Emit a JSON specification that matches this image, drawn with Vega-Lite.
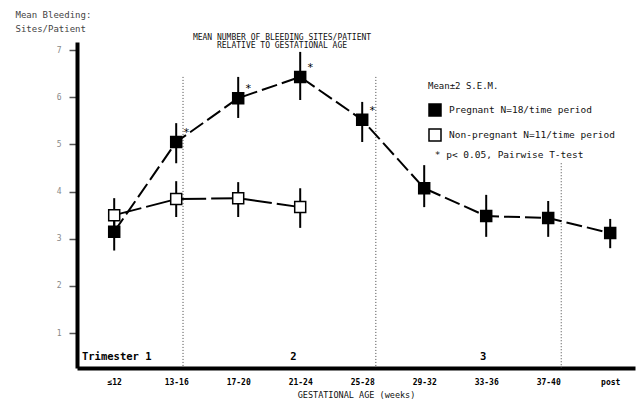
{
  "$schema": "https://vega.github.io/schema/vega-lite/v6.json",
  "width": 558,
  "height": 326,
  "autosize": {"type": "none"},
  "padding": {"left": 77, "top": 42, "right": 6, "bottom": 33},
  "background": "white",
  "config": {"view": {"stroke": null}, "font": "DejaVu Sans Mono"},
  "title": {
    "text": ["MEAN NUMBER OF BLEEDING SITES/PATIENT", "RELATIVE TO GESTATIONAL AGE"],
    "fontSize": 8, "fontWeight": "normal", "lineHeight": 8, "anchor": "middle", "dx": -74, "offset": -40,
    "font": "DejaVu Sans Mono", "color": "#111"
  },
  "datasets": {
    "points": [
      {"age": "≤12", "i": 0, "group": "Pregnant N=18/time period", "mean": 3.15, "lo": 2.75, "hi": 3.55, "sig": false},
      {"age": "13-16", "i": 1, "group": "Pregnant N=18/time period", "mean": 5.05, "lo": 4.6, "hi": 5.45, "sig": true},
      {"age": "17-20", "i": 2, "group": "Pregnant N=18/time period", "mean": 5.98, "lo": 5.56, "hi": 6.43, "sig": true},
      {"age": "21-24", "i": 3, "group": "Pregnant N=18/time period", "mean": 6.43, "lo": 5.94, "hi": 6.96, "sig": true},
      {"age": "25-28", "i": 4, "group": "Pregnant N=18/time period", "mean": 5.52, "lo": 5.05, "hi": 5.9, "sig": true},
      {"age": "29-32", "i": 5, "group": "Pregnant N=18/time period", "mean": 4.07, "lo": 3.67, "hi": 4.56, "sig": false},
      {"age": "33-36", "i": 6, "group": "Pregnant N=18/time period", "mean": 3.48, "lo": 3.04, "hi": 3.93, "sig": false},
      {"age": "37-40", "i": 7, "group": "Pregnant N=18/time period", "mean": 3.44, "lo": 3.04, "hi": 3.8, "sig": false},
      {"age": "post", "i": 8, "group": "Pregnant N=18/time period", "mean": 3.12, "lo": 2.8, "hi": 3.42, "sig": false},
      {"age": "≤12", "i": 0, "group": "Non-pregnant N=11/time period", "mean": 3.5, "lo": 3.15, "hi": 3.86, "sig": false},
      {"age": "13-16", "i": 1, "group": "Non-pregnant N=11/time period", "mean": 3.84, "lo": 3.46, "hi": 4.22, "sig": false},
      {"age": "17-20", "i": 2, "group": "Non-pregnant N=11/time period", "mean": 3.86, "lo": 3.46, "hi": 4.2, "sig": false},
      {"age": "21-24", "i": 3, "group": "Non-pregnant N=11/time period", "mean": 3.67, "lo": 3.23, "hi": 4.07, "sig": false}
    ],
    "bounds": [
      {"x": 1.11, "top": 6.43, "bottom": 0.26},
      {"x": 4.22, "top": 6.43, "bottom": 0.26},
      {"x": 7.21, "top": 4.6, "bottom": 0.26}
    ],
    "notes": [
      {"x": -0.52, "y": 0.49, "label": "Trimester 1"},
      {"x": 2.84, "y": 0.49, "label": "2"},
      {"x": 5.9, "y": 0.49, "label": "3"}
    ],
    "legendnote": [
      {"x": 5.17, "y": 4.77, "label": "*  p< 0.05, Pairwise T-test"}
    ]
  },
  "layer": [
    {
      "data": {"name": "bounds"},
      "mark": {"type": "rule", "strokeDash": [1, 2], "strokeWidth": 1, "color": "#444"},
      "encoding": {
        "x": {"field": "x", "type": "quantitative", "scale": {"domain": [-0.6, 8.4], "nice": false, "zero": false}},
        "y": {"field": "top", "type": "quantitative", "scale": {"domain": [0.26, 7.17], "nice": false, "zero": false}},
        "y2": {"field": "bottom"}
      }
    },
    {
      "data": {"name": "points"},
      "mark": {"type": "rule", "strokeWidth": 2, "color": "black"},
      "encoding": {
        "x": {"field": "i", "type": "quantitative"},
        "y": {"field": "lo", "type": "quantitative"},
        "y2": {"field": "hi"}
      }
    },
    {
      "data": {"name": "points"},
      "transform": [{"filter": "datum.group == 'Pregnant N=18/time period'"}],
      "mark": {"type": "line", "strokeWidth": 2, "color": "black", "strokeDash": [16, 5]},
      "encoding": {
        "x": {"field": "i", "type": "quantitative"},
        "y": {"field": "mean", "type": "quantitative"}
      }
    },
    {
      "data": {"name": "points"},
      "transform": [{"filter": "datum.group == 'Non-pregnant N=11/time period'"}],
      "mark": {"type": "line", "strokeWidth": 2, "color": "black", "strokeDash": [28, 5]},
      "encoding": {
        "x": {"field": "i", "type": "quantitative"},
        "y": {"field": "mean", "type": "quantitative"}
      }
    },
    {
      "data": {"name": "points"},
      "mark": {"type": "point", "shape": "square", "filled": true, "stroke": "black", "strokeWidth": 1.5, "size": 121, "opacity": 1},
      "encoding": {
        "x": {"field": "i", "type": "quantitative", "axis": {
          "values": [0, 1, 2, 3, 4, 5, 6, 7, 8],
          "labelExpr": "['≤12','13-16','17-20','21-24','25-28','29-32','33-36','37-40','post'][datum.value]",
          "ticks": false, "tickSize": 0, "grid": false, "domainWidth": 4, "domainColor": "black",
          "labelPadding": 10, "labelFontSize": 8, "labelFontWeight": "bold", "labelColor": "black",
          "title": "GESTATIONAL AGE (weeks)", "titleFontSize": 8.5, "titleFontWeight": "normal", "titlePadding": 4, "titleColor": "#111"
        }},
        "y": {"field": "mean", "type": "quantitative", "axis": {
          "values": [1, 2, 3, 4, 5, 6, 7], "grid": false, "domainWidth": 4, "domainColor": "black",
          "tickSize": 8, "tickColor": "#555", "tickWidth": 1.5, "labelColor": "#888", "labelFontSize": 8, "labelPadding": 8,
          "title": ["Mean Bleeding:", "Sites/Patient"], "titleAngle": 0, "titleAlign": "left", "titleBaseline": "top",
          "titleX": -62, "titleY": -32, "titleFontSize": 9, "titleFontWeight": "normal", "titleLineHeight": 14, "titleColor": "#444"
        }},
        "fill": {"field": "group", "type": "nominal",
          "scale": {"domain": ["Pregnant N=18/time period", "Non-pregnant N=11/time period"], "range": ["black", "white"]},
          "legend": {
            "orient": "none", "legendX": 351, "legendY": 40, "title": "Mean±2 S.E.M.",
            "titleFont": "DejaVu Sans Mono", "labelFont": "DejaVu Sans Mono",
            "titleFontSize": 9, "titleFontWeight": "normal", "titleColor": "#111", "titlePadding": 12,
            "labelFontSize": 9.5, "labelColor": "#111", "labelLimit": 400, "symbolType": "square", "symbolSize": 144,
            "symbolStrokeColor": "black", "symbolStrokeWidth": 1.5, "rowPadding": 7, "labelOffset": 7
          }
        }
      }
    },
    {
      "data": {"name": "points"},
      "transform": [{"filter": "datum.sig"}],
      "mark": {"type": "text", "text": "*", "fontSize": 11, "dx": 10, "dy": -9, "color": "black"},
      "encoding": {
        "x": {"field": "i", "type": "quantitative"},
        "y": {"field": "mean", "type": "quantitative"}
      }
    },
    {
      "data": {"name": "notes"},
      "mark": {"type": "text", "align": "left", "baseline": "middle", "fontSize": 10.5, "fontWeight": "bold", "color": "black"},
      "encoding": {
        "x": {"field": "x", "type": "quantitative"},
        "y": {"field": "y", "type": "quantitative"},
        "text": {"field": "label"}
      }
    },
    {
      "data": {"name": "legendnote"},
      "mark": {"type": "text", "align": "left", "baseline": "middle", "fontSize": 9.5, "color": "#111"},
      "encoding": {
        "x": {"field": "x", "type": "quantitative"},
        "y": {"field": "y", "type": "quantitative"},
        "text": {"field": "label"}
      }
    }
  ]
}
